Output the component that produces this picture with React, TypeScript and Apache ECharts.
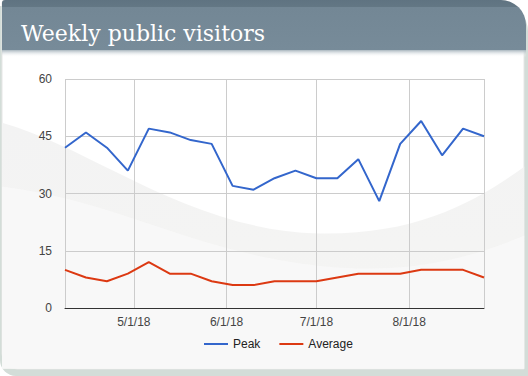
import React, { useEffect, useRef } from "react";
import * as echarts from "echarts";

const startDate = [2018, 3, 8]; // April 8, 2018 (first weekly point)
const weekCount = 21;
const peak = [42, 46, 42, 36, 47, 46, 44, 43, 32, 31, 34, 36, 34, 34, 39, 28, 43, 49, 40, 47, 45];
const average = [10, 8, 7, 9, 12, 9, 9, 7, 6, 6, 7, 7, 7, 8, 9, 9, 9, 10, 10, 10, 8];
const seriesNames = ["Peak", "Average"];
const yTicks = [0, 15, 30, 45, 60];
const titleText = "Weekly public visitors";

const DAY = 86400000;
const t0 = new Date(startDate[0], startDate[1], startDate[2]).getTime();
const dates = Array.from({ length: weekCount }, (_, i) => t0 + i * 7 * DAY);

let registered = false;
function registerShapes() {
  if (registered) return;
  registered = true;
  echarts.graphic.registerShape(
    "swoosh",
    echarts.graphic.extendPath(
      "M0,125 C90,150 190,235 320,238 C420,240 480,205 528,170 L528,376 L0,376 Z",
      {}
    )
  );
  echarts.graphic.registerShape(
    "swoosh2",
    echarts.graphic.extendPath(
      "M0,190 C120,205 200,260 330,272 C420,280 480,260 528,240 L528,376 L0,376 Z",
      {}
    )
  );
}

export default function App() {
  const ref = useRef<HTMLDivElement>(null);
  useEffect(() => {
    document.body.style.margin = "0";
    registerShapes();
    const chart = echarts.init(ref.current!, null, { renderer: "svg" });
    chart.setOption({
      animation: false,
      backgroundColor: "#ffffff",
      graphic: [
        {
          type: "rect",
          z: -10,
          silent: true,
          shape: { x: 0, y: 6, width: 528, height: 370, r: [0, 25, 0, 16] },
          style: { fill: "#d3ddd8" },
        },
        {
          type: "rect",
          z: -9,
          silent: true,
          shape: { x: 2, y: 0, width: 522, height: 369, r: [3, 25, 0, 15] },
          style: { fill: "#ffffff", stroke: "#e6e6e6", lineWidth: 1 },
        },
        {
          type: "swoosh",
          z: -8,
          silent: true,
          x: 2,
          y: 0,
          scaleX: 522 / 528,
          scaleY: 369 / 376,
          style: {
            fill: new echarts.graphic.LinearGradient(0, 0, 0, 1, [
              { offset: 0, color: "#f3f3f3" },
              { offset: 1, color: "#f5f5f3" },
            ]),
          },
        },
        {
          type: "swoosh2",
          z: -7,
          silent: true,
          x: 2,
          y: 0,
          scaleX: 522 / 528,
          scaleY: 369 / 376,
          style: { fill: "rgba(250,250,249,0.7)" },
        },
        {
          type: "rect",
          z: -6,
          silent: true,
          shape: { x: 2, y: 0, width: 524, height: 50, r: [3, 25, 0, 0] },
          style: {
            fill: new echarts.graphic.LinearGradient(0, 0, 0, 1, [
              { offset: 0, color: "#5f7381" },
              { offset: 0.13, color: "#637784" },
              { offset: 0.15, color: "#738795" },
              { offset: 1, color: "#778b99" },
            ]),
          },
        },
        {
          type: "rect",
          z: -6,
          silent: true,
          shape: { x: 2, y: 50, width: 524, height: 7 },
          style: {
            fill: new echarts.graphic.LinearGradient(0, 0, 0, 1, [
              { offset: 0, color: "#a9b6be" },
              { offset: 1, color: "rgba(255,255,255,0)" },
            ]),
          },
        },
      ],
      title: {
        text: titleText,
        left: 16,
        top: 17,
        textStyle: {
          fontFamily: "DejaVu Serif",
          fontSize: 22,
          fontWeight: "normal",
          color: "#ffffff",
        },
      },
      legend: {
        data: seriesNames,
        left: 199,
        top: 333,
        icon: "rect",
        itemWidth: 24,
        itemHeight: 2,
        itemGap: 19,
        textStyle: { fontFamily: "Arial, Liberation Sans", fontSize: 12, color: "#222222" },
      },
      grid: { left: 65, right: 44, top: 79, bottom: 68, containLabel: false },
      xAxis: {
        type: "time",
        min: dates[0],
        max: dates[dates.length - 1],
        splitNumber: 4,
        axisLine: { show: true, lineStyle: { color: "#333333", width: 1 } },
        axisTick: { show: false },
        splitLine: { show: true, lineStyle: { color: "#cccccc", width: 1 } },
        axisLabel: {
          fontFamily: "Arial, Liberation Sans",
          fontSize: 12,
          color: "#444444",
          margin: 8,
          formatter: (v: number) => {
            const d = new Date(v);
            return `${d.getMonth() + 1}/${d.getDate()}/${String(d.getFullYear()).slice(2)}`;
          },
        },
      },
      yAxis: {
        type: "value",
        min: yTicks[0],
        max: yTicks[yTicks.length - 1],
        interval: yTicks[1] - yTicks[0],
        axisLine: { show: false },
        axisTick: { show: false },
        splitLine: { lineStyle: { color: "#cccccc", width: 1 } },
        axisLabel: {
          fontFamily: "Arial, Liberation Sans",
          fontSize: 12,
          color: "#444444",
          margin: 13,
        },
      },
      series: [
        {
          name: seriesNames[0],
          type: "line",
          data: dates.map((d, i) => [d, peak[i]]),
          showSymbol: false,
          symbol: "none",
          lineStyle: { color: "#3366cc", width: 2 },
          itemStyle: { color: "#3366cc" },
        },
        {
          name: seriesNames[1],
          type: "line",
          data: dates.map((d, i) => [d, average[i]]),
          showSymbol: false,
          symbol: "none",
          lineStyle: { color: "#dc3912", width: 2 },
          itemStyle: { color: "#dc3912" },
        },
      ],
    });
    return () => chart.dispose();
  }, []);
  return (
    <div
      ref={ref}
      style={{ position: "fixed", left: 0, top: 0, width: 528, height: 376 }}
    />
  );
}
